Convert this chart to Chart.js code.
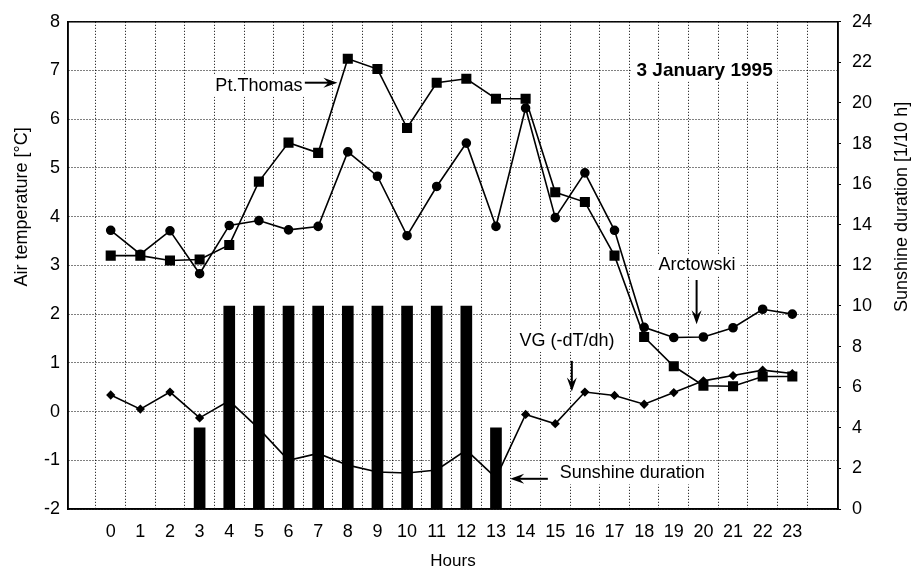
<!DOCTYPE html>
<html>
<head>
<meta charset="utf-8">
<script src="https://cdn.jsdelivr.net/npm/chart.js@4/dist/chart.umd.min.js"></script>
<style>
  html, body { margin: 0; padding: 0; background: #fff; }
  #wrap { position: relative; width: 922px; height: 580px; }
</style>
</head>
<body>
<div id="wrap"><canvas id="chart"></canvas></div>
<script>
const hours = [0, 1, 2, 3, 4, 5, 6, 7, 8, 9, 10, 11, 12, 13, 14, 15, 16, 17, 18, 19, 20, 21, 22, 23];
// air temperature [°C]
const ptThomas = [3.2, 3.2, 3.1, 3.12, 3.42, 4.72, 5.52, 5.31, 7.24, 7.03, 5.82, 6.75, 6.83, 6.42, 6.42, 4.5, 4.3, 3.2, 1.53, 0.93, 0.53, 0.52, 0.72, 0.72];
const arctowski = [3.72, 3.23, 3.71, 2.83, 3.82, 3.92, 3.73, 3.8, 5.33, 4.83, 3.61, 4.62, 5.51, 3.8, 6.23, 3.98, 4.9, 3.72, 1.73, 1.52, 1.53, 1.72, 2.1, 2.0];
// vertical gradient VG (-dT/dh)
const vg = [0.34, 0.05, 0.4, -0.13, 0.22, -0.35, -1.0, -0.86, -1.1, -1.24, -1.26, -1.2, -0.79, -1.36, -0.06, -0.25, 0.4, 0.33, 0.15, 0.39, 0.63, 0.74, 0.85, 0.78];
// sunshine duration [1/10 h]
const sunshine = [0, 0, 0, 4, 10, 10, 10, 10, 10, 10, 10, 10, 10, 4, 0, 0, 0, 0, 0, 0, 0, 0, 0, 0];

const notes = [
  { text: 'Pt.Thomas', hour: 5.0, temp: 6.69, bold: false },
  { text: '3 January 1995', hour: 20.04, temp: 7.0, bold: true },
  { text: 'Arctowski', hour: 19.78, temp: 3.0, bold: false },
  { text: 'VG (-dT/dh)', hour: 15.4, temp: 1.45, bold: false },
  { text: 'Sunshine duration', hour: 17.6, temp: -1.27, bold: false }
];
const arrows = [
  { from: [6.55, 6.75], to: [7.65, 6.75] },
  { from: [19.77, 2.7], to: [19.77, 1.79] },
  { from: [15.56, 1.04], to: [15.56, 0.41] },
  { from: [14.75, -1.38], to: [13.48, -1.38] }
];

const FONT = "'Liberation Sans', Arial, sans-serif";
Chart.defaults.font.family = FONT;
Chart.defaults.font.size = 18;
Chart.defaults.color = '#000';

const toXY = arr => arr.map((v, i) => ({ x: hours[i], y: v }));

function drawArrow(ctx, x1, y1, x2, y2) {
  const ang = Math.atan2(y2 - y1, x2 - x1);
  const len = 14, half = 5;
  const c = Math.cos(ang), s = Math.sin(ang);
  ctx.beginPath();
  ctx.moveTo(x1, y1);
  ctx.lineTo(x2 - c * len * 0.6, y2 - s * len * 0.6);
  ctx.lineWidth = 2;
  ctx.stroke();
  ctx.beginPath();
  ctx.moveTo(x2, y2);
  ctx.lineTo(x2 - c * len - s * half, y2 - s * len + c * half);
  ctx.lineTo(x2 - c * len * 0.65, y2 - s * len * 0.65);
  ctx.lineTo(x2 - c * len + s * half, y2 - s * len - c * half);
  ctx.closePath();
  ctx.fill();
}

const notesPlugin = {
  id: 'notes',
  beforeDatasetsDraw(chart) {
    const { ctx, scales: { x, y } } = chart;
    ctx.save();
    notes.forEach(n => {
      ctx.font = (n.bold ? 'bold 19px ' : '18px ') + FONT;
      const w = ctx.measureText(n.text).width;
      const px = x.getPixelForValue(n.hour);
      const py = y.getPixelForValue(n.temp);
      ctx.fillStyle = '#fff';
      ctx.fillRect(px - w / 2 - 5, py - 11, w + 10, 22);
      ctx.fillStyle = '#000';
      ctx.textAlign = 'center';
      ctx.textBaseline = 'middle';
      ctx.fillText(n.text, px, py);
    });
    ctx.strokeStyle = '#000';
    ctx.fillStyle = '#000';
    arrows.forEach(a => {
      drawArrow(ctx, x.getPixelForValue(a.from[0]), y.getPixelForValue(a.from[1]),
        x.getPixelForValue(a.to[0]), y.getPixelForValue(a.to[1]));
    });
    ctx.restore();
  },
  afterDatasetsDraw(chart) {
    const { ctx, chartArea: ca } = chart;
    ctx.save();
    ctx.strokeStyle = '#000';
    ctx.lineWidth = 1.5;
    ctx.strokeRect(ca.left, ca.top, ca.right - ca.left, ca.bottom - ca.top);
    // vertical axis titles, both reading upward
    ctx.font = '18px ' + FONT;
    ctx.fillStyle = '#000';
    ctx.textAlign = 'center';
    ctx.textBaseline = 'middle';
    const ty = ca.top + (ca.bottom - ca.top) * 0.38;
    [[22, 'Air temperature [°C]'], [902, 'Sunshine duration [1/10 h]']].forEach(([tx, label]) => {
      ctx.save();
      ctx.translate(tx, ty);
      ctx.rotate(-Math.PI / 2);
      ctx.fillText(label, 0, 0);
      ctx.restore();
    });
    ctx.restore();
  }
};

const dotted = { color: '#000', lineWidth: 1, drawTicks: false };

new Chart(document.getElementById('chart'), {
  data: {
    datasets: [
      {
        type: 'line', label: 'Pt.Thomas', data: toXY(ptThomas), yAxisID: 'y', order: 1,
        borderColor: '#000', backgroundColor: '#000', borderWidth: 1.6,
        pointStyle: 'rect', pointRadius: 6, pointHoverRadius: 6, tension: 0
      },
      {
        type: 'line', label: 'Arctowski', data: toXY(arctowski), yAxisID: 'y', order: 1,
        borderColor: '#000', backgroundColor: '#000', borderWidth: 1.6,
        pointStyle: 'circle', pointRadius: 4, pointHoverRadius: 4, tension: 0
      },
      {
        type: 'line', label: 'VG (-dT/dh)', data: toXY(vg), yAxisID: 'y', order: 1,
        borderColor: '#000', backgroundColor: '#000', borderWidth: 1.6,
        pointStyle: 'rectRot', pointRadius: 3.5, pointHoverRadius: 3.5, tension: 0
      },
      {
        type: 'bar', label: 'Sunshine duration', data: toXY(sunshine), yAxisID: 'y2', order: 3,
        backgroundColor: '#000', borderWidth: 0, barThickness: 11
      }
    ]
  },
  options: {
    responsive: true,
    maintainAspectRatio: false,
    animation: false,
    layout: { padding: { top: 14, left: 0, right: 0, bottom: 0 } },
    plugins: { legend: { display: false }, tooltip: { enabled: false } },
    scales: {
      x: {
        type: 'linear', min: -0.9, max: 24,
        afterBuildTicks: s => { s.ticks = hours.map(v => ({ value: v })); },
        afterFit: s => { s.height = 71; },
        grid: dotted,
        border: { display: true, color: '#000', width: 1.5, dash: [1, 2] },
        ticks: { padding: 12, font: { size: 18 }, maxRotation: 0, autoSkip: false },
        title: { display: true, text: 'Hours', font: { size: 17 }, padding: { top: 0, bottom: 8 } }
      },
      y: {
        position: 'left', min: -2, max: 8,
        afterFit: s => { s.width = 68; },
        grid: dotted,
        border: { display: true, color: '#000', width: 1.5, dash: [1, 2] },
        ticks: { stepSize: 1, padding: 8, font: { size: 18 } }
      },
      y2: {
        position: 'right', min: 0, max: 24,
        afterFit: s => { s.width = 84; },
        grid: { drawOnChartArea: false, drawTicks: true, tickLength: 3, color: '#000' },
        border: { display: true, color: '#000', width: 1.5 },
        ticks: { stepSize: 2, padding: 11, font: { size: 18 } }
      }
    }
  },
  plugins: [notesPlugin]
});
</script>
</body>
</html>
